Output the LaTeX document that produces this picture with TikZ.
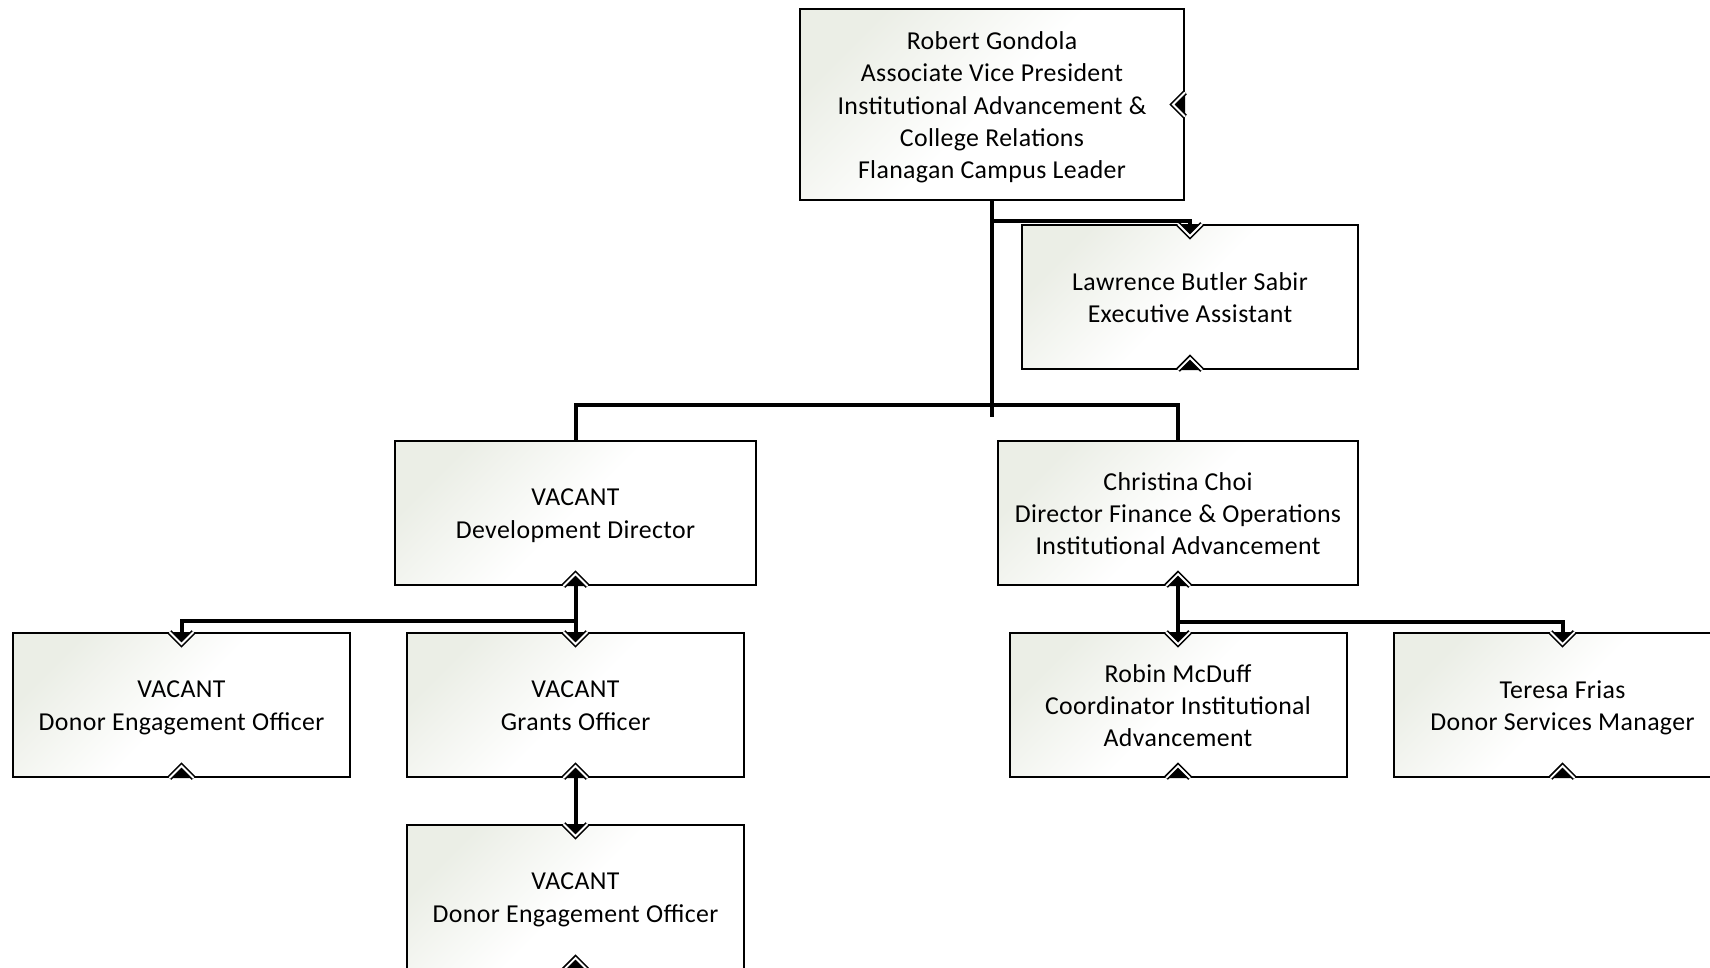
\documentclass[tikz,border=0pt]{standalone}
\usepackage{fontspec}
\setmainfont[LetterSpace=1.5]{Carlito}
\definecolor{boxtint}{HTML}{EBEEE6}
\tikzset{
  % connection tips drawn on box edges: black wedge, white rim, black outline
  downtip/.pic={
    \fill[black] (-12,0) -- (0,12) -- (12,0) -- cycle;
    \draw[black, line width=5pt] (-12,0) -- (0,12) -- (12,0);
    \draw[white, line width=1.8pt] (-12,0) -- (0,12) -- (12,0);
  },
  uptip/.pic={
    \fill[black] (-12,0) -- (0,-12) -- (12,0) -- cycle;
    \draw[black, line width=5pt] (-12,0) -- (0,-12) -- (12,0);
    \draw[white, line width=1.8pt] (-12,0) -- (0,-12) -- (12,0);
  },
  lefttip/.pic={
    \fill[black] (0,-12) -- (-12,0) -- (0,12) -- cycle;
    \draw[black, line width=5pt] (0,-12) -- (-12,0) -- (0,12);
    \draw[white, line width=1.8pt] (0,-12) -- (-12,0) -- (0,12);
  }
}
\begin{document}
\begin{tikzpicture}[x=1pt, y=-1pt,
  orgbox/.style={draw=black, line width=2pt, inner sep=0pt,
    top color=boxtint, bottom color=white, middle color=white, shading angle=45,
    minimum width=337pt, minimum height=144pt},
  % last line always gets the depth of a descender, so blocks centre alike
  boxtext/.style={align=center, inner sep=0pt, yshift=-3.8pt,
    font=\fontsize{25.8}{32.3}\selectfont,
    execute at end node={\rule[-6.5pt]{0pt}{6.5pt}}},
  link/.style={draw=black, line width=4pt}]
\useasboundingbox (0,0) rectangle (1710,967);
\clip (0,0) rectangle (1710,967);

% boxes
\node[orgbox, minimum width=384pt, minimum height=191pt] (avp) at (992,104.5) {};
\node[orgbox, minimum width=336pt] (asst) at (1190,297) {};
\node[orgbox, minimum width=361pt] (dev) at (575.5,513) {};
\node[orgbox, minimum width=360pt] (fin) at (1178,513) {};
\node[orgbox] (deoA) at (181.5,705) {};
\node[orgbox] (grants) at (575.5,705) {};
\node[orgbox] (deoB) at (575.5,897) {};
\node[orgbox] (coord) at (1178,705) {};
\node[orgbox] (donor) at (1562.5,705) {};

% box texts
\node[boxtext] (avp-t) at (avp.center)
  {Robert Gondola\\Associate Vice President\\Institutional Advancement \&\\College Relations\\Flanagan Campus Leader};
\node[boxtext] (asst-t) at (asst.center) {Lawrence Butler Sabir\\Executive Assistant};
\node[boxtext] (dev-t) at (dev.center) {VACANT\\Development Director};
\node[boxtext] (fin-t) at (fin.center)
  {Christina Choi\\Director Finance \& Operations\\Institutional Advancement};
\node[boxtext] (deoA-t) at (deoA.center) {VACANT\\Donor Engagement Officer};
\node[boxtext] (grants-t) at (grants.center) {VACANT\\Grants Officer};
\node[boxtext] (deoB-t) at (deoB.center) {VACANT\\Donor Engagement Officer};
\node[boxtext] (coord-t) at (coord.center) {Robin McDuff\\Coordinator Institutional\\Advancement};
\node[boxtext] (donor-t) at (donor.center) {Teresa Frias\\Donor Services Manager};

% junction points of the connectors
\coordinate (trunkend) at (992,417);
\coordinate (asstjoin) at (992,221);
\coordinate (hub) at (992,405);
\coordinate (devhub) at (575.5,621);
\coordinate (finhub) at (1178,622);

% connectors
\draw[link] (avp.south) -- (trunkend);
\draw[link] (asstjoin) -| (asst.north);
\draw[link] (dev.north) |- (hub) -| (fin.north);
\draw[link] (dev.south) -- (grants.north);
\draw[link] (devhub) -| (deoA.north);
\draw[link] (grants.south) -- (deoB.north);
\draw[link] (fin.south) -- (coord.north);
\draw[link] (finhub) -| (donor.north);

% edge tips
\pic at (avp.east) {lefttip};
\foreach \b in {asst, deoA, grants, deoB, coord, donor} {
  \pic at (\b.north) {downtip};
}
\foreach \b in {asst, dev, fin, deoA, grants, deoB, coord, donor} {
  \pic at (\b.south) {uptip};
}
\end{tikzpicture}
\end{document}
